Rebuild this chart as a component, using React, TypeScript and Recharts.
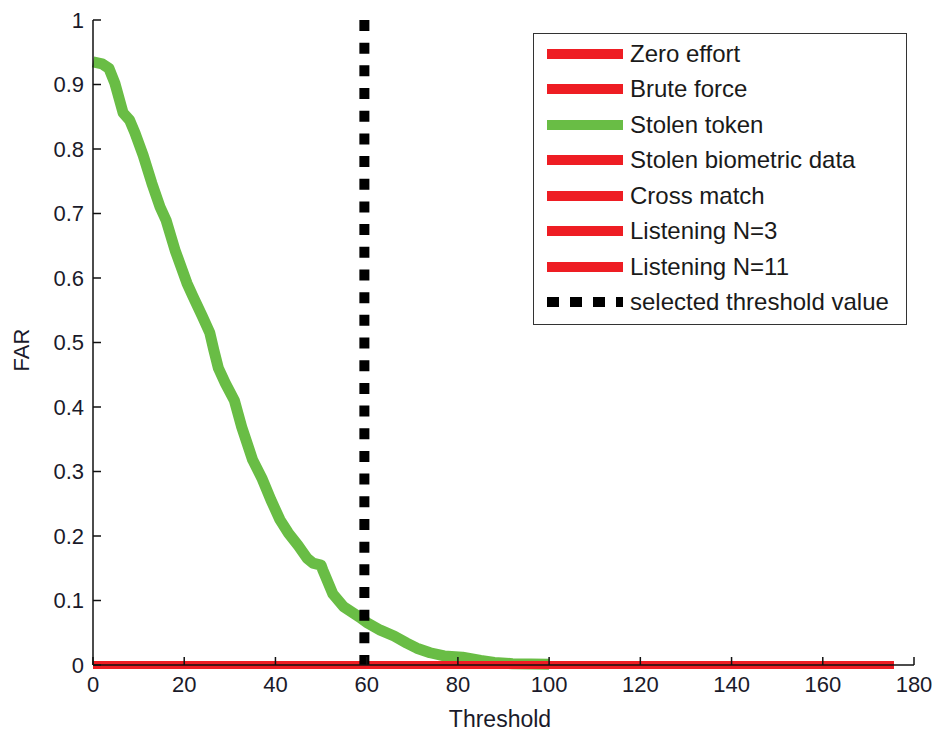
import React from 'react';
import { LineChart, Line, XAxis, YAxis, Legend } from 'recharts';

const FONT = '"Liberation Sans", Arial, sans-serif';
const RED = '#ee1d23';
const GREEN = '#69bd45';

// x axis ticks (threshold) and y axis ticks (FAR)
const X_TICKS = [0, 20, 40, 60, 80, 100, 120, 140, 160, 180];
const Y_TICKS = [0, 0.1, 0.2, 0.3, 0.4, 0.5, 0.6, 0.7, 0.8, 0.9, 1];

// Stolen token curve
const TOKEN_T = [0, 2, 3.5, 4.8, 6.6, 8, 9.2, 11, 12.9, 14.7, 16, 18, 20.6, 22, 24, 25.6, 26.5, 27.5, 29, 31, 32.6, 35, 37, 39, 41, 42.8, 45, 47, 48.2, 50, 50.4, 52.6, 55, 58.5, 60, 63, 66, 68.8, 71, 73.9, 77, 81, 85, 88, 92, 100];
const TOKEN_FAR = [0.935, 0.932, 0.925, 0.902, 0.856, 0.845, 0.825, 0.79, 0.747, 0.71, 0.69, 0.643, 0.592, 0.57, 0.54, 0.515, 0.488, 0.46, 0.437, 0.41, 0.369, 0.318, 0.29, 0.256, 0.225, 0.205, 0.185, 0.165, 0.158, 0.155, 0.147, 0.11, 0.09, 0.074, 0.066, 0.054, 0.045, 0.034, 0.026, 0.019, 0.014, 0.012, 0.007, 0.004, 0.002, 0.001];

// the other attacks stay at zero over the whole threshold range
const ZERO_T = [0, 175.5];
const ZERO_FAR = [0, 0];

// selected threshold
const SELECTED_T = [59.5, 59.5];
const SELECTED_FAR = [1, 0];

const zip = (xs: number[], ys: number[]) => xs.map((x, i) => ({ x, y: ys[i] }));

const SERIES = [
  { name: 'Zero effort', color: RED, t: ZERO_T, far: ZERO_FAR },
  { name: 'Brute force', color: RED, t: ZERO_T, far: ZERO_FAR },
  { name: 'Stolen token', color: GREEN, t: TOKEN_T, far: TOKEN_FAR },
  { name: 'Stolen biometric data', color: RED, t: ZERO_T, far: ZERO_FAR },
  { name: 'Cross match', color: RED, t: ZERO_T, far: ZERO_FAR },
  { name: 'Listening N=3', color: RED, t: ZERO_T, far: ZERO_FAR },
  { name: 'Listening N=11', color: RED, t: ZERO_T, far: ZERO_FAR },
  { name: 'selected threshold value', color: '#000', t: SELECTED_T, far: SELECTED_FAR, dotted: true },
];

const LegendBox = () => (
  <div
    style={{
      boxSizing: 'border-box',
      width: 374,
      height: 292,
      border: '1.5px solid #333',
      background: '#fff',
      paddingTop: 2,
      fontFamily: FONT,
      fontSize: 24,
      color: '#1a1a1a',
    }}
  >
    {SERIES.map((s) => (
      <div key={s.name} style={{ height: 35.5, display: 'flex', alignItems: 'center' }}>
        <svg width={83} height={14} style={{ marginLeft: 13 }}>
          <line
            x1={0}
            x2={76}
            y1={7}
            y2={7}
            stroke={s.color}
            strokeWidth={10}
            strokeDasharray={s.dotted ? '12 11' : undefined}
          />
        </svg>
        <span style={{ whiteSpace: 'nowrap' }}>{s.name}</span>
      </div>
    ))}
  </div>
);

export default function App() {
  return (
    <div style={{ position: 'absolute', left: 0, top: 0, width: 936, height: 731, background: '#fff', fontFamily: FONT }}>
      <LineChart width={936} height={731} margin={{ top: 20, right: 22, bottom: 16, left: 33 }}>
        <XAxis
          type="number"
          dataKey="x"
          domain={[0, 180]}
          ticks={X_TICKS}
          interval={0}
          height={50}
          tickSize={-8}
          tickMargin={19}
          axisLine={{ stroke: '#111', strokeWidth: 1.5 }}
          tickLine={{ stroke: '#111', strokeWidth: 1.5 }}
          tick={{ fill: '#1a1a2a', fontSize: 22, fontFamily: FONT }}
        />
        <YAxis
          type="number"
          dataKey="y"
          domain={[0, 1]}
          ticks={Y_TICKS}
          interval={0}
          width={60}
          tickSize={-8}
          tickMargin={17}
          axisLine={{ stroke: '#111', strokeWidth: 1.5 }}
          tickLine={{ stroke: '#111', strokeWidth: 1.5 }}
          tick={{ fill: '#1a1a2a', fontSize: 22, fontFamily: FONT }}
        />
        {SERIES.map((s) => (
          <Line
            key={s.name}
            name={s.name}
            data={zip(s.t, s.far)}
            dataKey="y"
            type="linear"
            stroke={s.color}
            strokeWidth={s.dotted ? 10 : s.color === GREEN ? 11 : 8}
            strokeDasharray={s.dotted ? '11 11.68' : undefined}
            strokeLinecap="butt"
            strokeLinejoin="round"
            dot={false}
            activeDot={false}
            isAnimationActive={false}
          />
        ))}
        <Legend
          layout="horizontal"
          align="center"
          verticalAlign="middle"
          content={() => <LegendBox />}
          wrapperStyle={{ left: 533, top: 33, width: 374, height: 292 }}
        />
      </LineChart>
      <div
        style={{
          position: 'absolute',
          left: 22,
          top: 350,
          transform: 'translate(-50%, -50%) rotate(-90deg)',
          fontSize: 22,
          color: '#1a1a2a',
          whiteSpace: 'nowrap',
        }}
      >
        FAR
      </div>
      <div
        style={{
          position: 'absolute',
          left: 500,
          top: 719,
          transform: 'translate(-50%, -50%)',
          fontSize: 23,
          color: '#1a1a2a',
          whiteSpace: 'nowrap',
        }}
      >
        Threshold
      </div>
    </div>
  );
}
